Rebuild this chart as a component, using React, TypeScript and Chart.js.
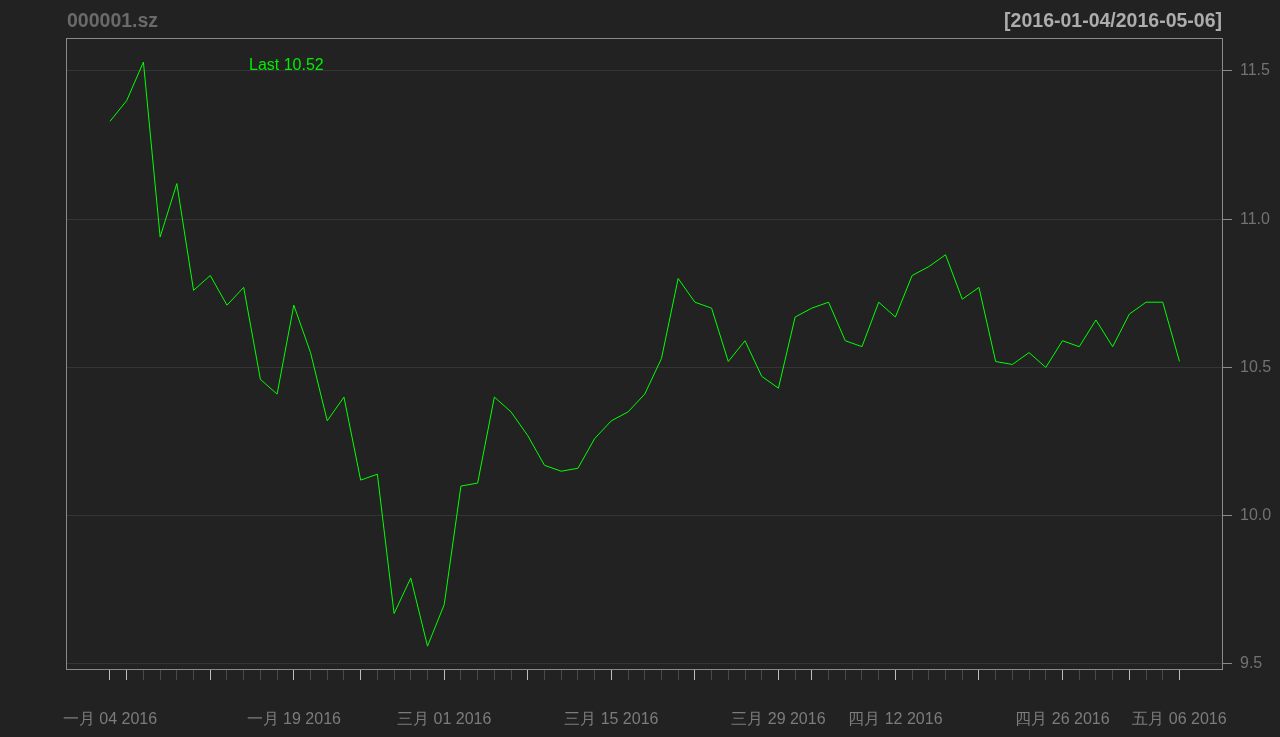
import React, { useEffect, useRef } from 'react';
import { Chart, registerables } from 'chart.js';

Chart.register(...registerables);

const symbol = '000001.sz';

const dates = [
  '2016-01-04', '2016-01-05', '2016-01-06', '2016-01-07', '2016-01-08',
  '2016-01-11', '2016-01-12', '2016-01-13', '2016-01-14', '2016-01-15',
  '2016-01-18', '2016-01-19', '2016-01-20', '2016-01-21', '2016-01-22',
  '2016-01-25', '2016-01-26', '2016-01-27', '2016-01-28', '2016-01-29',
  '2016-03-01', '2016-03-02', '2016-03-03', '2016-03-04', '2016-03-07',
  '2016-03-08', '2016-03-09', '2016-03-10', '2016-03-11', '2016-03-14',
  '2016-03-15', '2016-03-16', '2016-03-17', '2016-03-18', '2016-03-21',
  '2016-03-22', '2016-03-23', '2016-03-24', '2016-03-25', '2016-03-28',
  '2016-03-29', '2016-03-30', '2016-04-01', '2016-04-05', '2016-04-06',
  '2016-04-07', '2016-04-08', '2016-04-12', '2016-04-13', '2016-04-14',
  '2016-04-15', '2016-04-18', '2016-04-19', '2016-04-20', '2016-04-21',
  '2016-04-22', '2016-04-25', '2016-04-26', '2016-04-27', '2016-04-28',
  '2016-04-29', '2016-05-03', '2016-05-04', '2016-05-05', '2016-05-06',
];

const closes = [
  11.33, 11.40, 11.53, 10.94, 11.12, 10.76, 10.81, 10.71, 10.77, 10.46,
  10.41, 10.71, 10.55, 10.32, 10.40, 10.12, 10.14, 9.67, 9.79, 9.56,
  9.70, 10.10, 10.11, 10.40, 10.35, 10.27, 10.17, 10.15, 10.16, 10.26,
  10.32, 10.35, 10.41, 10.53, 10.80, 10.72, 10.70, 10.52, 10.59, 10.47,
  10.43, 10.67, 10.70, 10.72, 10.59, 10.57, 10.72, 10.67, 10.81, 10.84,
  10.88, 10.73, 10.77, 10.52, 10.51, 10.55, 10.50, 10.59, 10.57, 10.66,
  10.57, 10.68, 10.72, 10.72, 10.52,
];

const xTickDates = ['2016-01-04', '2016-01-19', '2016-03-01', '2016-03-15', '2016-03-29', '2016-04-12', '2016-04-26', '2016-05-06'];
const xTickLabels = ['一月 04 2016', '一月 19 2016', '三月 01 2016', '三月 15 2016', '三月 29 2016', '四月 12 2016', '四月 26 2016', '五月 06 2016'];
const majorTickDates = [
  '2016-01-04', '2016-01-05', '2016-01-12', '2016-01-19', '2016-01-25', '2016-03-01',
  '2016-03-08', '2016-03-15', '2016-03-22', '2016-03-29', '2016-04-01', '2016-04-12',
  '2016-04-19', '2016-04-26', '2016-05-03', '2016-05-06',
];
const yTicks = [9.5, 10.0, 10.5, 11.0, 11.5];

const FONT = "'Liberation Sans', Arial, sans-serif";

export default function App() {
  const ref = useRef<HTMLCanvasElement>(null);

  useEffect(() => {
    document.body.style.margin = '0';
    document.body.style.background = '#222222';
    const canvas = ref.current!;
    const labelIdx = new Map<number, string>();
    xTickDates.forEach((d, i) => labelIdx.set(dates.indexOf(d), xTickLabels[i]));
    const majorIdx = new Set(majorTickDates.map((d) => dates.indexOf(d)));
    const n = closes.length;

    const frame = {
      id: 'frame',
      beforeDraw(c: any) {
        const ctx = c.ctx;
        ctx.save();
        ctx.fillStyle = '#222222';
        ctx.fillRect(0, 0, c.width, c.height);
        ctx.restore();
      },
      afterDraw(c: any) {
        const ctx = c.ctx;
        const a = c.chartArea;
        ctx.save();
        ctx.strokeStyle = '#8a8a8a';
        ctx.lineWidth = 1;
        ctx.strokeRect(Math.round(a.left) - 0.5, Math.round(a.top) + 0.5, Math.round(a.right - a.left) + 1, Math.round(a.bottom - a.top));
        ctx.font = `bold 19.5px ${FONT}`;
        ctx.textBaseline = 'alphabetic';
        ctx.textAlign = 'left';
        ctx.fillStyle = '#6a6a6a';
        ctx.fillText(symbol, a.left, 27);
        ctx.textAlign = 'right';
        ctx.fillStyle = '#adadad';
        ctx.fillText(`[${dates[0]}/${dates[dates.length - 1]}]`, a.right, 27);
        ctx.font = `16px ${FONT}`;
        ctx.textAlign = 'left';
        ctx.fillStyle = '#00ee00';
        ctx.fillText(`Last ${closes[closes.length - 1].toFixed(2)}`, a.left + 182, 70);
        ctx.restore();
      },
    };

    const chart = new Chart(canvas, {
      type: 'line',
      data: {
        datasets: [
          {
            data: closes.map((v, i) => ({ x: i, y: v })),
            borderColor: '#00ff00',
            borderWidth: 1,
            pointRadius: 0,
            tension: 0,
            fill: false,
          },
        ],
      },
      options: {
        animation: false,
        responsive: false,
        maintainAspectRatio: false,
        layout: { padding: { left: 67, top: 38, right: 0, bottom: 0 } },
        plugins: { legend: { display: false }, tooltip: { enabled: false } },
        scales: {
          x: {
            type: 'linear',
            min: -2.573,
            max: n - 1 + 2.544,
            afterBuildTicks: (s: any) => {
              s.ticks = dates.map((_, i) => ({ value: i }));
            },
            afterFit: (s: any) => {
              s.height = 68;
            },
            grid: {
              drawOnChartArea: false,
              drawTicks: true,
              tickLength: 11,
              tickColor: (ctx: any) => (majorIdx.has(ctx.tick?.value) ? '#bdbdbd' : '#4a4a4a'),
            },
            border: { display: false },
            ticks: {
              autoSkip: false,
              maxRotation: 0,
              minRotation: 0,
              padding: 30,
              color: '#7c7c7c',
              font: { family: FONT, size: 16 },
              callback: (v: any) => labelIdx.get(Number(v)) ?? '',
            },
          },
          y: {
            position: 'right',
            min: 9.483,
            max: 11.611,
            afterBuildTicks: (s: any) => {
              s.ticks = yTicks.map((v) => ({ value: v }));
            },
            afterFit: (s: any) => {
              s.width = 58;
            },
            grid: { color: '#353535', tickColor: '#8a8a8a', tickLength: 10 },
            border: { display: false },
            ticks: {
              padding: 8,
              color: '#727272',
              font: { family: FONT, size: 16 },
              callback: (v: any) => Number(v).toFixed(1),
            },
          },
        },
      },
      plugins: [frame],
    } as any);

    return () => chart.destroy();
  }, []);

  return <canvas ref={ref} width={1280} height={737} style={{ display: 'block' }} />;
}
